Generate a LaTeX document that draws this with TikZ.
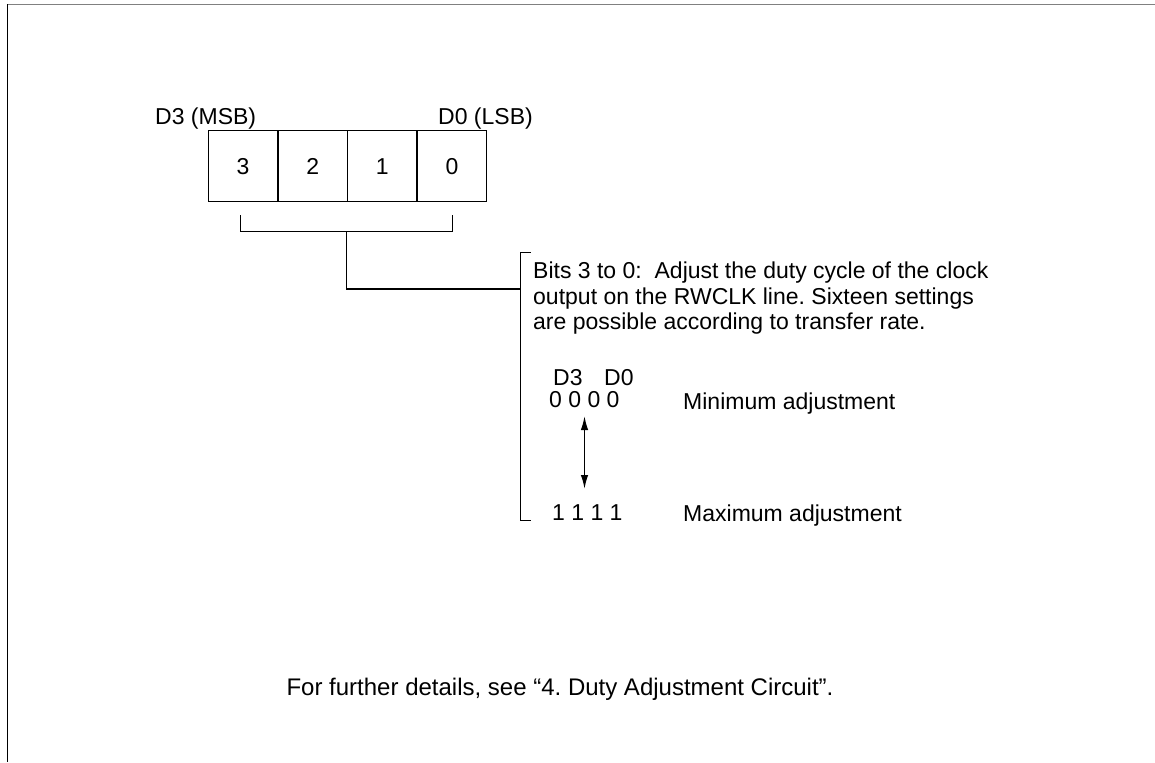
\documentclass[tikz,border=0pt]{standalone}
\usepackage{fontspec}
\setmainfont{Liberation Sans}
\usetikzlibrary{arrows.meta}
\frenchspacing
\begin{document}
\begin{tikzpicture}[x=1pt,y=-1pt,
  lin/.style={line width=1.4pt,black},
  cell/.style={draw,line width=1.4pt,minimum width=69.6pt,minimum height=71pt,inner sep=0pt,text height=16.5pt,text depth=0pt,font=\fontsize{23}{27}\selectfont},
  txt/.style={inner sep=0pt,font=\fontsize{23}{27}\selectfont}]
\useasboundingbox (0,0) rectangle (1155,762);
% frame
\draw[line width=1.7pt,gray] (7,4.5) -- (1155,4.5);
\draw[line width=1pt,black] (7,4.5) -- (7,762);
% register cells
\node[cell] (b3) at (243.1,166) {3};
\node[cell] (b2) at (312.7,166) {2};
\node[cell] (b1) at (382.3,166) {1};
\node[cell] (b0) at (451.9,166) {0};
\node[txt,anchor=base west] (msb) at (155,125) {D3 (MSB)};
\node[txt,anchor=base west] (lsb) at (438,125) {D0 (LSB)};
% bracket under cells
\coordinate (bl) at (240.7,215);
\coordinate (br) at (452.3,215);
\coordinate (bm) at (346.7,231.7);
\coordinate (rt) at (530.7,252.7);
\coordinate (rb) at (530.7,520.7);
\coordinate (rm) at (520.7,289);
\draw[lin] (bl) |- (bm) -| (br);
\draw[lin] (bm) |- (rm);
\draw[lin] (rt) -- (rt -| rm) -- (rb -| rm) -- (rb);
% description
\node[txt,anchor=base west] (l1) at (533,278) {Bits 3 to 0:\ \ Adjust the duty cycle of the clock};
\node[txt,anchor=base west] (l2) at (533,304) {output on the RWCLK line. Sixteen settings};
\node[txt,anchor=base west] (l3) at (533,329) {are possible according to transfer rate.};
\node[txt,anchor=base west] (d3) at (553,385) {D3};
\node[txt,anchor=base west] (d0) at (604,385) {D0};
\node[txt,anchor=base west] (z) at (549,407) {0 0 0 0};
\node[txt,anchor=base west] (o) at (552,520) {1 1 1 1};
\node[txt,anchor=base west] (mn) at (683,409) {Minimum adjustment};
\node[txt,anchor=base west] (mx) at (683,521) {Maximum adjustment};
\coordinate (at) at (584.5,416);
\coordinate (ab) at (584.5,489);
\draw[line width=1.6pt,{Latex[length=14pt,width=7.5pt]}-{Latex[length=14pt,width=7.5pt]}] (at) -- (ab);
% footer
\node[txt,anchor=base,font=\fontsize{24}{28}\selectfont] (ft) at (560,695) {For further details, see “4. Duty Adjustment Circuit”.};
\end{tikzpicture}
\end{document}
